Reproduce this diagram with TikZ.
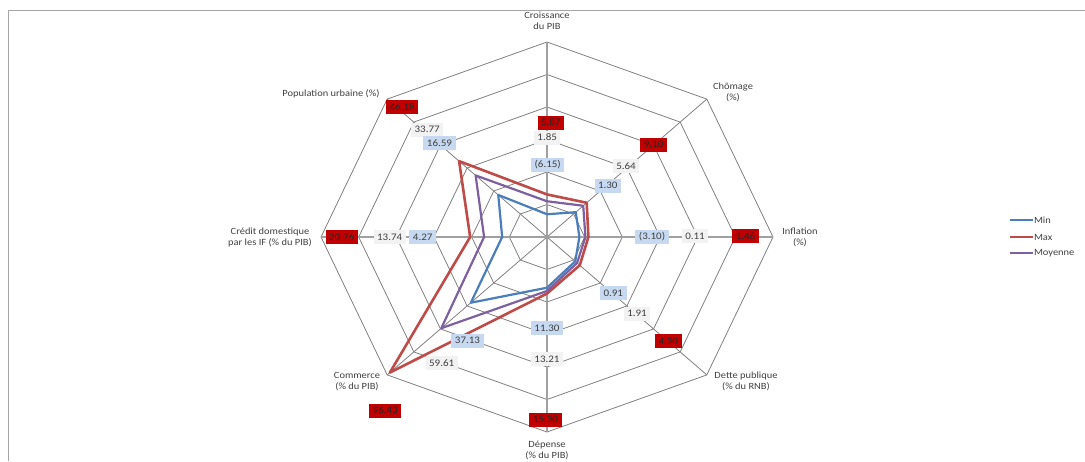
\documentclass[tikz,border=0pt]{standalone}
\usepackage{fontspec}
\setmainfont{Carlito}[FakeStretch=1.1]

\definecolor{gridc}{HTML}{808080}
\definecolor{axisc}{HTML}{A0A0A0}
\definecolor{framec}{HTML}{A6A6A6}
\definecolor{minc}{HTML}{4A7EBB}
\definecolor{maxc}{HTML}{BE4B48}
\definecolor{moyc}{HTML}{7D60A0}
\definecolor{lblue}{HTML}{C6D9F1}
\definecolor{lgray}{HTML}{F2F2F2}
\definecolor{dred}{HTML}{C00000}
\definecolor{txt}{HTML}{404040}

\tikzset{
  cat/.style={font=\fontsize{9.5}{11}\selectfont, text=txt, align=center, inner sep=0pt},
  val/.style={font=\fontsize{10}{12}\selectfont, text=txt, inner xsep=3.5pt, inner ysep=0pt,
              minimum height=14pt},
  vmin/.style={val, fill=lblue},
  vmax/.style={val, fill=dred, text=black!85},
  vmoy/.style={val, fill=lgray},
  ring/.style={draw=gridc, line width=0.8pt, line join=miter},
  spoke/.style={draw=gridc, line width=0.8pt},
  mainspoke/.style={draw=axisc, line width=1.5pt},
  series/.style={line width=2.2pt, line join=round},
  legtext/.style={font=\fontsize{9.5}{11}\selectfont, text=txt, anchor=west, inner sep=0.5pt},
}

\begin{document}
\begin{tikzpicture}[x=1pt, y=-1pt]
  \useasboundingbox (0,0) rectangle (1085,461);
  \clip (0,0) rectangle (1085,461);

  % chart frame (top and left edges)
  \draw[framec, line width=1pt] (1085,10) -- (8,10) -- (8,461);

  % radar grid: centre at (547,237), one ring = 37.67 px wide, 32.5 px high
  \begin{scope}[shift={(547,237)}, x=37.667pt, y=32.5pt]
    \coordinate (O) at (0,0);
    \foreach \k in {1,...,6}
      \draw[ring] (90:\k) -- (45:\k) -- (0:\k) -- (-45:\k) -- (-90:\k)
                  -- (-135:\k) -- (180:\k) -- (135:\k) -- cycle;
    \foreach \a/\n in {45/chom, -45/dette, -135/comm, 135/popu}
      \coordinate (ax-\n) at (\a:6);
    \foreach \a/\n in {90/croi, 0/infl, -90/depe, 180/cred}
      \coordinate (ax-\n) at (\a:6);
    \foreach \n in {chom, dette, comm, popu}
      \draw[spoke] (O) -- (ax-\n);
    \foreach \n in {croi, infl, depe, cred}
      \draw[mainspoke] (O) -- (ax-\n);

    % data series
    \draw[series, minc] (90:0.70) -- (45:1.08) -- (0:0.86) -- (-45:1.06) -- (-90:1.56)
                        -- (-135:2.86) -- (180:1.19) -- (135:1.83) -- cycle;
    \draw[series, maxc, line width=2.6pt] (90:1.31) -- (45:1.49) -- (0:1.10) -- (-45:1.23) -- (-90:1.74)
                        -- (-135:5.90) -- (180:2.04) -- (135:3.30) -- cycle;
    \draw[series, moyc] (90:1.10) -- (45:1.36) -- (0:1.02) -- (-45:1.13) -- (-90:1.66)
                        -- (-135:3.97) -- (180:1.67) -- (135:2.68) -- cycle;
  \end{scope}

  % axis titles
  \node[cat] (t-croi)  at (547,20.5)  {Croissance\\du PIB};
  \node[cat] (t-chom)  at (733,92.5)  {Chômage\\(\%)};
  \node[cat] (t-infl)  at (800,237.5) {Inflation\\(\%)};
  \node[cat] (t-dette) at (746,381.7) {Dette publique\\(\% du RNB)};
  \node[cat] (t-depe)  at (547,450.5) {Dépense\\(\% du PIB)};
  \node[cat] (t-comm)  at (357,381.7) {Commerce\\(\% du PIB)};
  \node[cat] (t-cred)  at (270,237.3) {Crédit domestique\\par les IF (\% du PIB)};
  \node[cat] (t-popu)  at (331,93.3)  {Population urbaine (\%)};

  % value labels: Croissance du PIB
  \node[vmax] (v-croi-max) at (550.8,122.5) {5.87};
  \node[vmoy] (v-croi-moy) at (547.2,137.5) {1.85};
  \node[vmin] (v-croi-min) at (547.7,165)   {(6.15)};
  % Chômage
  \node[vmax] (v-chom-max) at (653.6,144.6) {9.10};
  \node[vmoy] (v-chom-moy) at (626,166)     {5.64};
  \node[vmin] (v-chom-min) at (607.8,185.5) {1.30};
  % Inflation
  \node[vmin] (v-infl-min) at (652,237)     {(3.10)};
  \node[vmoy] (v-infl-moy) at (695,236)     {0.11};
  \node[vmax] (v-infl-max) at (745.5,236.2) {1.46};
  % Dette publique
  \node[vmin] (v-dette-min) at (613.3,293.3) {0.91};
  \node[vmoy] (v-dette-moy) at (637,313.7)   {1.91};
  \node[vmax] (v-dette-max) at (668.3,341.3) {4.30};
  % Dépense
  \node[vmin] (v-depe-min) at (547,327.8)   {11.30};
  \node[vmoy] (v-depe-moy) at (547,358.8)   {13.21};
  \node[vmax] (v-depe-max) at (545.5,419.7) {15.30};
  % Commerce
  \node[vmin] (v-comm-min) at (467.5,340.5) {37.13};
  \node[vmoy] (v-comm-moy) at (441.7,363)   {59.61};
  \node[vmax] (v-comm-max) at (385.3,410.5) {96.43};
  % Crédit domestique
  \node[vmin] (v-cred-min) at (422.7,237.3) {4.27};
  \node[vmoy] (v-cred-moy) at (389.7,237.3) {13.74};
  \node[vmax] (v-cred-max) at (341.7,237.3) {20.76};
  % Population urbaine
  \node[vmax] (v-popu-max) at (402.2,107.2) {46.18};
  \node[vmoy] (v-popu-moy) at (427.2,129.5) {33.77};
  \node[vmin] (v-popu-min) at (439.5,143.3) {16.59};

  % legend
  \coordinate (lg-min) at (1010,220);
  \coordinate (lg-max) at (1010,237.3);
  \coordinate (lg-moy) at (1010,253.3);
  \node[legtext] (lt-min) at (1033.3,220)   {Min};
  \node[legtext] (lt-max) at (1033.3,237.3) {Max};
  \node[legtext] (lt-moy) at (1033.3,253.3) {Moyenne};
  \draw[minc, line width=2pt] (lg-min) -- (lt-min.west);
  \draw[maxc, line width=2pt] (lg-max) -- (lt-max.west);
  \draw[moyc, line width=2pt] (lg-moy) -- (lt-moy.west);
\end{tikzpicture}
\end{document}
